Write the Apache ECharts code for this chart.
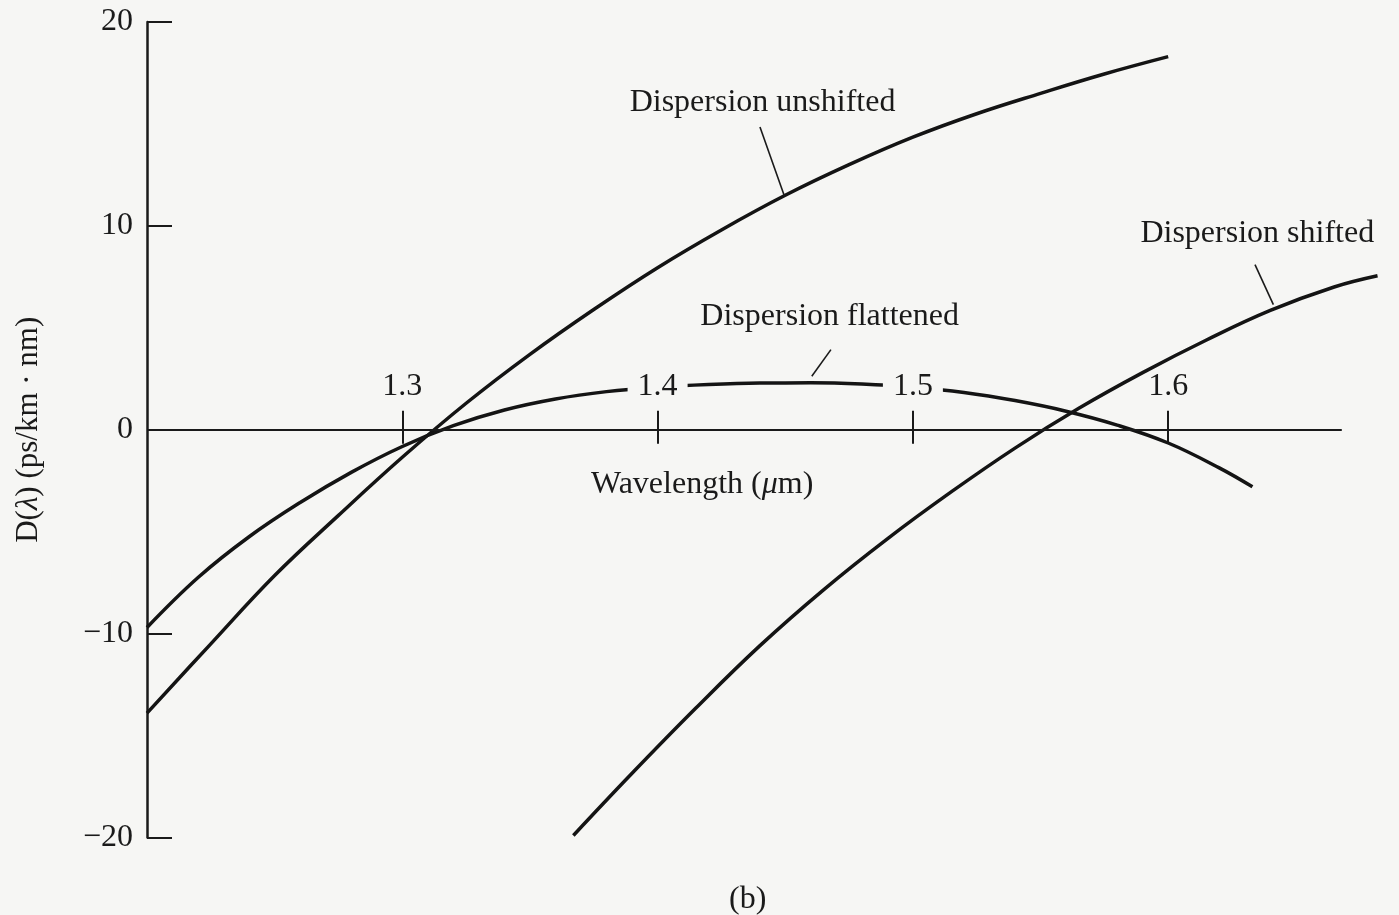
<!DOCTYPE html>
<html>
<head>
<meta charset="utf-8">
<script src="https://cdn.jsdelivr.net/npm/echarts@6/dist/echarts.min.js"></script>
<style>
  html, body { margin: 0; padding: 0; background: #f6f6f4; }
  #chart { width: 1399px; height: 915px; }
</style>
</head>
<body>
<div id="chart"></div>
<script>
// Tick values
const wavelengthTicks = [1.3, 1.4, 1.5, 1.6];
const maskedTicks = [1.4, 1.5];          // numbers that sit on the flattened curve and blank it out
const dispersionTicks = [-20, -10, 0, 10, 20];

// Wavelength range of the plot and of the drawn D = 0 axis line (µm)
const lambdaMin = 1.2;
const lambdaMax = 1.6823;
const lambdaAxisEnd = 1.668;

// Dispersion D(λ) in ps/(km·nm) versus wavelength in µm
const unshiftedLambda = [1.200, 1.225, 1.250, 1.275, 1.300, 1.325, 1.350, 1.375, 1.400, 1.425, 1.450, 1.475, 1.500, 1.525, 1.550, 1.575, 1.600];
const unshiftedD      = [-13.9, -10.5, -7.15, -4.2, -1.35, 1.3, 3.7, 5.9, 7.95, 9.8, 11.5, 13.0, 14.35, 15.5, 16.5, 17.45, 18.3];

const flattenedLambda = [1.20, 1.22, 1.24, 1.26, 1.28, 1.30, 1.32, 1.34, 1.36, 1.38, 1.40, 1.42, 1.44, 1.46, 1.48, 1.50, 1.52, 1.54, 1.56, 1.58, 1.60, 1.62, 1.633];
const flattenedD      = [-9.7, -7.25, -5.25, -3.57, -2.09, -0.82, 0.20, 0.97, 1.51, 1.87, 2.09, 2.22, 2.29, 2.30, 2.24, 2.09, 1.83, 1.43, 0.91, 0.23, -0.65, -1.87, -2.80];

const shiftedLambda = [1.367, 1.390, 1.415, 1.440, 1.465, 1.490, 1.515, 1.540, 1.565, 1.590, 1.615, 1.640, 1.665, 1.682];
const shiftedD      = [-19.9, -16.85, -13.65, -10.6, -7.85, -5.35, -3.05, -0.9, 1.05, 2.8, 4.4, 5.85, 7.0, 7.55];

const curveNames = ['Dispersion unshifted', 'Dispersion flattened', 'Dispersion shifted'];

// Caption anchor and the short pointer from caption to curve, in data coordinates
const captionAt   = [[1.4411, 16.05], [1.4674, 5.55], [1.6349, 9.6]];
const pointerFrom = [[1.4401, 14.85], [1.4679, 3.93], [1.6340, 8.1]];
const pointerTo   = [[1.4497, 11.45], [1.4604, 2.62], [1.6412, 6.14]];

const SERIF = '"Liberation Serif", "Times New Roman", serif';
const INK = '#1a1a1a';
const PAPER = '#f6f6f4';

// Plot box in pixels; the wavelength axis is carried across the middle, at D = 0
const GRID = { left: 147, right: 20.7, top: 22, bottom: 77.5 };
const plotHeight = 915 - GRID.top - GRID.bottom;
const zeroShift = -plotHeight / 2;

const zip = (xs, ys) => xs.map((x, i) => [x, ys[i]]);
const curves = [zip(unshiftedLambda, unshiftedD), zip(flattenedLambda, flattenedD), zip(shiftedLambda, shiftedD)];

const series = curves.map((data, k) => ({
  type: 'line',
  name: curveNames[k],
  xAxisIndex: 0,
  yAxisIndex: 0,
  data: data,
  symbol: 'none',
  smooth: 0.4,
  silent: true,
  z: 2,
  lineStyle: { color: '#141414', width: 3.5 },
  markPoint: {
    silent: true,
    symbol: 'circle',
    symbolSize: 0,
    label: {
      show: true,
      position: 'inside',
      formatter: curveNames[k],
      color: INK,
      fontFamily: SERIF,
      fontSize: 32
    },
    data: [{ coord: captionAt[k] }]
  },
  markLine: {
    silent: true,
    symbol: ['none', 'none'],
    label: { show: false },
    lineStyle: { color: INK, width: 1.6, type: 'solid' },
    data: [[{ coord: pointerFrom[k] }, { coord: pointerTo[k] }]]
  }
}));

// The D = 0 axis line, which stops short of the right end of the plot
series.push({
  type: 'line',
  name: 'zero',
  data: [],
  silent: true,
  z: 1,
  markLine: {
    silent: true,
    symbol: ['none', 'none'],
    label: { show: false },
    lineStyle: { color: INK, width: 1.8, type: 'solid' },
    data: [[{ coord: [lambdaMin, 0] }, { coord: [lambdaAxisEnd, 0] }]]
  }
});

const tickLabelText = { color: INK, fontFamily: SERIF, fontSize: 32, lineHeight: 26 };

const option = {
  backgroundColor: PAPER,
  animation: false,
  grid: Object.assign({ containLabel: false, outerBoundsMode: 'none' }, GRID),
  xAxis: [
    {
      // upper half of the crossing ticks, plus the numbers
      type: 'value',
      min: lambdaMin,
      max: lambdaMax,
      position: 'top',
      offset: zeroShift,
      z: 5,
      axisLine: { show: false, onZero: false },
      axisTick: { show: true, customValues: wavelengthTicks, length: 19, lineStyle: { color: INK, width: 2 } },
      axisLabel: {
        show: true,
        customValues: wavelengthTicks,
        formatter: v => {
          const t = v.toFixed(1);
          return maskedTicks.some(m => Math.abs(m - v) < 1e-9) ? '{m|' + t + '}' : '{p|' + t + '}';
        },
        margin: 30,
        rich: {
          m: Object.assign({ backgroundColor: PAPER, padding: [0, 10] }, tickLabelText),
          p: Object.assign({ padding: [0, 10] }, tickLabelText)
        }
      },
      splitLine: { show: false }
    },
    {
      // lower half of the crossing ticks, plus the axis title
      type: 'value',
      min: lambdaMin,
      max: lambdaMax,
      position: 'bottom',
      offset: zeroShift,
      axisLine: { show: false, onZero: false },
      axisTick: { show: true, customValues: wavelengthTicks, length: 14, lineStyle: { color: INK, width: 2 } },
      axisLabel: { show: false },
      splitLine: { show: false },
      name: 'Wavelength ({i|μ}m)',
      nameLocation: 'middle',
      nameGap: 39,
      nameTextStyle: {
        color: INK,
        fontFamily: SERIF,
        fontSize: 32,
        padding: [0, 121, 0, 0],
        rich: { i: { fontFamily: SERIF, fontSize: 32, fontStyle: 'italic', color: INK } }
      }
    }
  ],
  yAxis: {
    type: 'value',
    min: dispersionTicks[0],
    max: dispersionTicks[dispersionTicks.length - 1],
    interval: 10,
    position: 'left',
    axisLine: { show: true, onZero: false, lineStyle: { color: INK, width: 2.5 } },
    axisTick: { show: true, inside: true, length: 25, lineStyle: { color: INK, width: 2 } },
    axisLabel: {
      margin: 14,
      color: INK,
      fontFamily: SERIF,
      fontSize: 32,
      formatter: v => String(v).replace('-', '\u2212')
    },
    splitLine: { show: false },
    name: 'D({i|λ}) (ps/km · nm)',
    nameLocation: 'middle',
    nameRotate: 90,
    nameGap: 103,
    nameTextStyle: {
      color: INK,
      fontFamily: SERIF,
      fontSize: 31,
      rich: { i: { fontFamily: SERIF, fontSize: 31, fontStyle: 'italic', color: INK } }
    }
  },
  graphic: [
    {
      type: 'text',
      left: 729,
      top: 884,
      silent: true,
      style: { text: '(b)', fontFamily: SERIF, fontSize: 32, fill: INK }
    }
  ],
  series: series
};

const chart = echarts.init(document.getElementById('chart'), null, { renderer: 'canvas' });
chart.setOption(option);
</script>
</body>
</html>
